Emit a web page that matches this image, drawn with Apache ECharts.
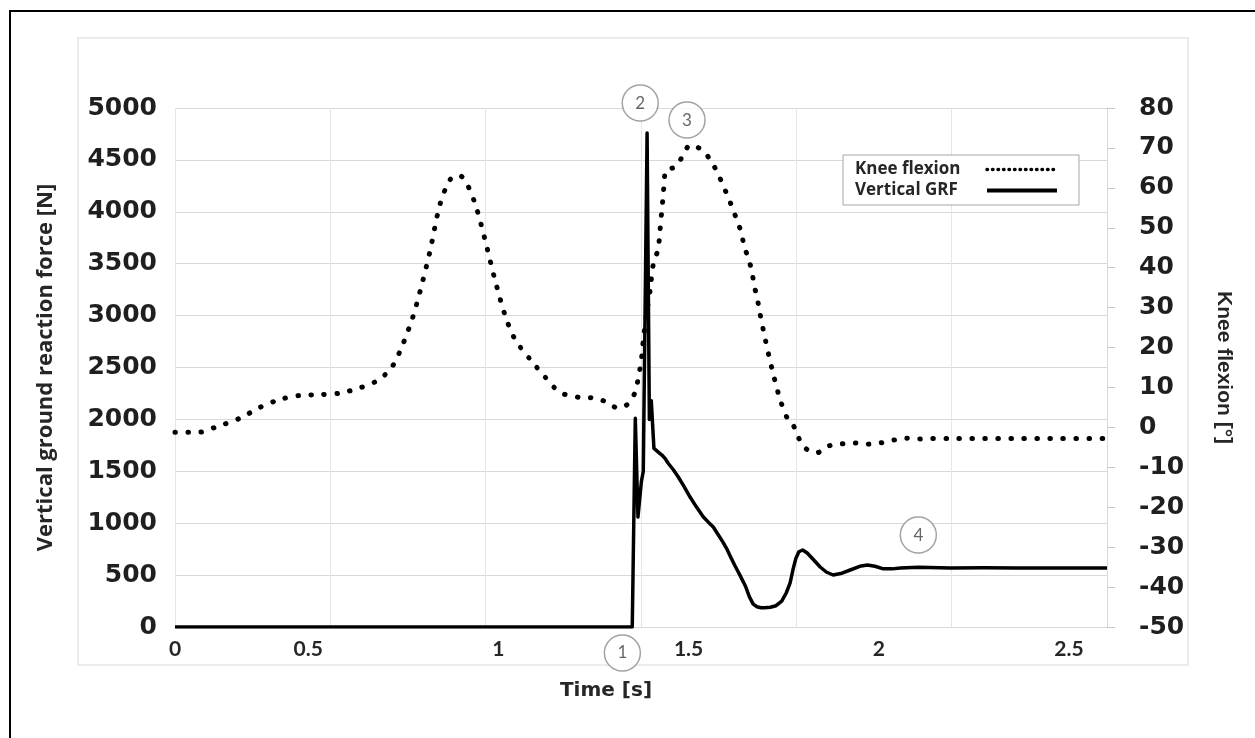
<!DOCTYPE html>
<html>
<head>
<meta charset="utf-8">
<script src="https://cdn.jsdelivr.net/npm/echarts@6/dist/echarts.min.js"></script>
<style>
html,body{margin:0;padding:0;background:#fff;}
#chart{width:1255px;height:738px;}
</style>
</head>
<body>
<div id="chart"></div>
<script>
// ---- data ----
const xTickValues = [0.15, 0.5, 1, 1.5, 2, 2.5];
const xTickLabels = ['0', '0.5', '1', '1.5', '2', '2.5'];

const kneeTime = [0.150,0.215,0.255,0.321,0.373,0.426,0.478,0.531,0.584,0.636,0.676,0.715,0.741,0.773,0.794,0.820,0.847,0.873,0.895,0.912,0.939,0.965,0.991,1.018,1.044,1.084,1.123,1.162,1.215,1.249,1.286,1.315,1.341,1.360,1.367,1.373,1.378,1.381,1.391,1.399,1.407,1.420,1.425,1.430,1.433,1.436,1.441,1.465,1.486,1.504,1.536,1.557,1.575,1.589,1.604,1.615,1.628,1.639,1.646,1.657,1.667,1.672,1.680,1.686,1.702,1.720,1.741,1.762,1.775,1.788,1.807,1.836,1.867,1.898,1.933,1.970,2.004,2.038,2.072,2.104,2.141,2.188,2.275,2.364,2.451,2.600];
const kneeDeg  = [-1.2,-1.2,0.0,2.3,5.0,7.0,8.0,8.2,8.6,9.9,11.4,14.4,19.0,27.0,34.0,44.0,56.0,62.0,63.2,62.0,56.0,47.0,37.0,28.0,22.0,17.0,12.6,8.8,7.5,7.4,6.3,4.8,5.9,8.9,11.9,15.1,18.6,21.9,29.4,34.4,40.7,44.7,49.5,54.7,57.7,61.2,64.5,65.2,68.2,70.7,69.5,67.0,64.0,61.0,57.7,55.0,51.7,48.7,45.4,42.4,38.9,35.7,32.7,29.4,21.9,14.4,6.9,1.8,0.6,-2.4,-5.2,-6.4,-4.7,-4.2,-3.9,-4.2,-3.9,-3.2,-2.7,-2.9,-2.8,-2.8,-2.8,-2.8,-2.8,-2.8];

const grfTime = [0.150,1.352,1.360,1.367,1.376,1.381,1.391,1.397,1.402,1.409,1.412,1.422,1.430,1.438,1.446,1.460,1.473,1.488,1.504,1.520,1.539,1.552,1.565,1.575,1.590,1.602,1.610,1.622,1.635,1.650,1.660,1.670,1.680,1.690,1.700,1.715,1.730,1.745,1.757,1.767,1.775,1.782,1.790,1.800,1.812,1.828,1.846,1.862,1.880,1.900,1.925,1.950,1.970,1.990,2.012,2.035,2.057,2.104,2.188,2.275,2.364,2.451,2.600];
const grfN     = [0,0,2010,1060,1400,1500,4760,2000,2180,1720,1705,1680,1657,1625,1580,1515,1445,1355,1252,1160,1060,1010,963,906,820,742,680,590,500,390,290,220,195,185,185,190,205,250,330,424,560,660,725,742,713,650,578,530,501,515,549,585,597,585,560,560,568,575,568,570,568,568,568];

const markTime  = [1.326, 1.373, 1.496, 2.104];
const markN     = [-250, 5048, 4884, 886];
const markLabel = ['1', '2', '3', '4'];

// ---- chart ----
const chart = echarts.init(document.getElementById('chart'), null, {renderer: 'canvas'});
const labelFont = 'DejaVu Sans';
const option = {
  animation: false,
  backgroundColor: '#ffffff',
  grid: {left: 175, right: 148, top: 108, bottom: 111, containLabel: false},
  graphic: [
    {type: 'rect', silent: true, z: -10, shape: {x: 78, y: 38, width: 1110, height: 627},
     style: {fill: 'none', stroke: '#ececec', lineWidth: 2}},
    {type: 'rect', silent: true, z: 100, shape: {x: 10, y: 11, width: 1300, height: 800},
     style: {fill: 'none', stroke: '#000', lineWidth: 2}}
  ],
  legend: {
    data: [
      {name: 'Knee flexion', lineStyle: {type: [0.5, 5], width: 3.5, cap: 'round', color: '#000'}},
      {name: 'Vertical GRF', lineStyle: {width: 4, color: '#000'}}
    ],
    orient: 'vertical',
    align: 'right',
    left: 843, top: 155,
    padding: [6, 20, 6, 12],
    itemGap: 4,
    itemWidth: 70, itemHeight: 14,
    itemStyle: {opacity: 0},
    backgroundColor: '#fff',
    borderColor: '#a6a6a6', borderWidth: 1,
    formatter: '{t|{name}}',
    textStyle: {
      fontFamily: 'Open Sans', fontWeight: 'bold', fontSize: 17, color: '#262626',
      rich: {t: {width: 127, align: 'left', fontFamily: 'Open Sans', fontWeight: 'bold', fontSize: 17, color: '#262626'}}
    }
  },
  xAxis: [
    {
      type: 'value', min: 0.15, max: 2.6,
      axisLine: {show: true, lineStyle: {color: '#d9d9d9', width: 1}},
      axisTick: {show: false},
      splitLine: {show: false},
      axisLabel: {
        customValues: xTickValues,
        margin: 12,
        fontFamily: 'Lato', fontWeight: 'bold', fontSize: 21, color: '#262626',
        formatter: function (v) {
          const i = xTickValues.findIndex(function (x) { return Math.abs(x - v) < 1e-6; });
          return i >= 0 ? xTickLabels[i] : '';
        }
      },
      name: 'Time [s]', nameLocation: 'middle', nameGap: 54,
      nameTextStyle: {fontFamily: 'DejaVu Sans', fontWeight: 'bold', fontSize: 20, color: '#262626', padding: [0, 70, 0, 0]}
    },
    {
      type: 'value', min: 0, max: 6, interval: 1, position: 'bottom',
      axisLine: {show: false}, axisTick: {show: false}, axisLabel: {show: false},
      splitLine: {show: true, lineStyle: {color: '#e6e6e6', width: 1}}
    }
  ],
  yAxis: [
    {
      type: 'value', min: 0, max: 5000, interval: 500, position: 'left',
      axisLine: {show: false}, axisTick: {show: false},
      splitLine: {show: true, lineStyle: {color: '#d9d9d9', width: 1}},
      axisLabel: {margin: 18, fontFamily: labelFont, fontWeight: 'bold', fontSize: 25, color: '#1f1f1f',
        formatter: function (v) { return String(v); }},
      name: 'Vertical ground reaction force [N]', nameLocation: 'middle', nameGap: 118, nameRotate: 90,
      nameTextStyle: {fontFamily: 'Open Sans', fontWeight: 'bold', fontSize: 22, color: '#262626'}
    },
    {
      type: 'value', min: -50, max: 80, interval: 10, position: 'right',
      axisLine: {show: true, lineStyle: {color: '#d9d9d9', width: 1}},
      axisTick: {show: true, length: 8, lineStyle: {color: '#c8c8c8'}},
      splitLine: {show: false},
      axisLabel: {margin: 32, fontFamily: labelFont, fontWeight: 'bold', fontSize: 25, color: '#1f1f1f',
        formatter: function (v) { return String(v); }},
      name: 'Knee flexion [°]', nameLocation: 'middle', nameGap: 106, nameRotate: -90,
      nameTextStyle: {fontFamily: 'Liberation Sans', fontWeight: 'bold', fontSize: 21, color: '#262626'}
    }
  ],
  series: [
    {
      name: 'Knee flexion', type: 'line', xAxisIndex: 0, yAxisIndex: 1,
      data: kneeTime.map(function (t, i) { return [t, kneeDeg[i]]; }),
      showSymbol: false, symbol: 'none', smooth: 0.3, z: 2,
      lineStyle: {color: '#000', width: 5, type: [0.5, 12.5], cap: 'round'},
      itemStyle: {color: '#000'}
    },
    {
      name: 'Vertical GRF', type: 'line', xAxisIndex: 0, yAxisIndex: 0,
      data: grfTime.map(function (t, i) { return [t, grfN[i]]; }),
      showSymbol: false, symbol: 'none', smooth: false, z: 3,
      lineStyle: {color: '#000', width: 3.5, join: 'round'},
      itemStyle: {color: '#000'}
    },
    {
      name: 'marks', type: 'scatter', xAxisIndex: 0, yAxisIndex: 0, clip: false, z: 5, silent: true,
      data: markTime.map(function (t, i) { return {value: [t, markN[i]], name: markLabel[i]}; }),
      symbol: 'circle', symbolSize: 36,
      itemStyle: {color: '#ffffff', borderColor: '#8c8c8c', borderWidth: 1.5},
      label: {show: true, position: 'inside', formatter: '{b}', fontFamily: 'Lato', fontSize: 17, color: '#404040'}
    }
  ]
};
chart.setOption(option);
</script>
</body>
</html>
